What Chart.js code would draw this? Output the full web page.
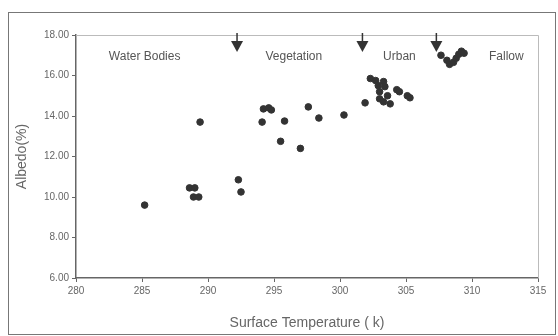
<!DOCTYPE html>
<html>
<head>
<meta charset="utf-8">
<script src="https://cdn.jsdelivr.net/npm/chart.js@4"></script>
<style>
  html, body { margin: 0; padding: 0; background: #fff; }
  #wrap { width: 558px; height: 336px; position: relative; }
</style>
</head>
<body>
<div id="wrap"><canvas id="albedoChart"></canvas></div>
<script>
// surface temperature (K) vs albedo (%)
const temperature = [285.2, 288.6, 289.0, 288.9, 289.3, 289.4, 292.3, 292.5,
  294.1, 294.2, 294.6, 294.8, 295.8, 295.5, 297.0, 297.6, 298.4, 300.3,
  301.9, 302.3, 302.7, 303.3, 303.4, 303.0, 303.0, 303.3, 303.8, 304.3,
  304.5, 305.1, 305.3, 302.9, 303.6,
  307.65, 308.1, 308.3, 308.6, 308.8, 309.0, 309.2, 309.4];
const albedo = [9.6, 10.45, 10.45, 10.0, 10.0, 13.7, 10.85, 10.25,
  13.7, 14.35, 14.4, 14.3, 13.75, 12.75, 12.4, 14.45, 13.9, 14.05,
  14.65, 15.85, 15.75, 15.7, 15.45, 15.2, 14.85, 14.7, 14.6, 15.3,
  15.2, 15.0, 14.9, 15.5, 15.0,
  17.0, 16.75, 16.55, 16.65, 16.85, 17.05, 17.2, 17.1];

const xTicks = [280, 285, 290, 295, 300, 305, 310, 315];
const yTicks = [6, 8, 10, 12, 14, 16, 18];

// class boundaries (arrows) and class labels
const boundaries = [292.2, 301.7, 307.3];
const classNames = ['Water Bodies', 'Vegetation', 'Urban', 'Fallow'];
const classCenters = [285.2, 296.5, 304.5, 312.6];
const labelLevel = 16.95;

const decorations = {
  id: 'decorations',
  beforeDraw(chart) {
    const c = chart.ctx;
    c.save();
    c.strokeStyle = '#777';
    c.lineWidth = 1;
    c.strokeRect(8.5, 12.5, 547, 322);
    c.restore();
  },
  afterDraw(chart) {
    const c = chart.ctx;
    const a = chart.chartArea;
    const xs = chart.scales.x, ys = chart.scales.y;
    c.save();
    // top and right plot border
    c.strokeStyle = '#bbb';
    c.lineWidth = 1;
    c.beginPath();
    c.moveTo(a.left, a.top + 0.5);
    c.lineTo(a.right + 0.5, a.top + 0.5);
    c.lineTo(a.right + 0.5, a.bottom);
    c.stroke();
    // arrows
    c.fillStyle = '#333';
    c.strokeStyle = '#333';
    c.lineWidth = 1.5;
    boundaries.forEach(b => {
      const x = xs.getPixelForValue(b);
      c.beginPath();
      c.moveTo(x, a.top - 2);
      c.lineTo(x, a.top + 8);
      c.stroke();
      c.beginPath();
      c.moveTo(x - 6, a.top + 6);
      c.lineTo(x + 6, a.top + 6);
      c.lineTo(x, a.top + 17);
      c.closePath();
      c.fill();
    });
    // class labels
    c.fillStyle = '#555';
    c.font = '12px Arial, "Liberation Sans", sans-serif';
    c.textAlign = 'center';
    c.textBaseline = 'middle';
    classNames.forEach((n, i) => {
      c.fillText(n, xs.getPixelForValue(classCenters[i]), ys.getPixelForValue(labelLevel));
    });
    c.restore();
  }
};

const ctx = document.getElementById('albedoChart').getContext('2d');
new Chart(ctx, {
  type: 'scatter',
  data: {
    datasets: [{
      label: 'Albedo',
      data: temperature.map((t, i) => ({ x: t, y: albedo[i] })),
      backgroundColor: '#333',
      borderColor: '#333',
      pointRadius: 3.3,
      pointHoverRadius: 3.3
    }]
  },
  options: {
    responsive: true,
    maintainAspectRatio: false,
    animation: false,
    layout: { padding: { left: 0, right: 20, top: 35, bottom: 0 } },
    plugins: { legend: { display: false }, tooltip: { enabled: false } },
    scales: {
      x: {
        type: 'linear',
        min: 280, max: 315,
        afterBuildTicks: s => { s.ticks = xTicks.map(v => ({ value: v })); },
        afterFit: s => { s.height = 58; },
        grid: { drawOnChartArea: false, tickLength: 4, color: '#666' },
        border: { color: '#666', width: 1.5 },
        ticks: { color: '#666', font: { size: 10, family: 'Arial' }, padding: 3, maxRotation: 0 },
        title: {
          display: true, text: 'Surface Temperature ( k)', color: '#666',
          font: { size: 14, family: 'Arial' }, padding: { top: 6 }
        }
      },
      y: {
        min: 6, max: 18,
        afterBuildTicks: s => { s.ticks = yTicks.map(v => ({ value: v })); },
        afterFit: s => { s.width = 76; },
        grid: { drawOnChartArea: false, tickLength: 4, color: '#666' },
        border: { color: '#666', width: 1.5 },
        ticks: { color: '#666', font: { size: 10, family: 'Arial' }, padding: 3,
          callback: v => v.toFixed(2) },
        title: {
          display: true, text: 'Albedo(%)', color: '#666',
          font: { size: 14, family: 'Arial' }, padding: { top: 14, bottom: 0 }
        }
      }
    }
  },
  plugins: [decorations]
});
</script>
</body>
</html>
